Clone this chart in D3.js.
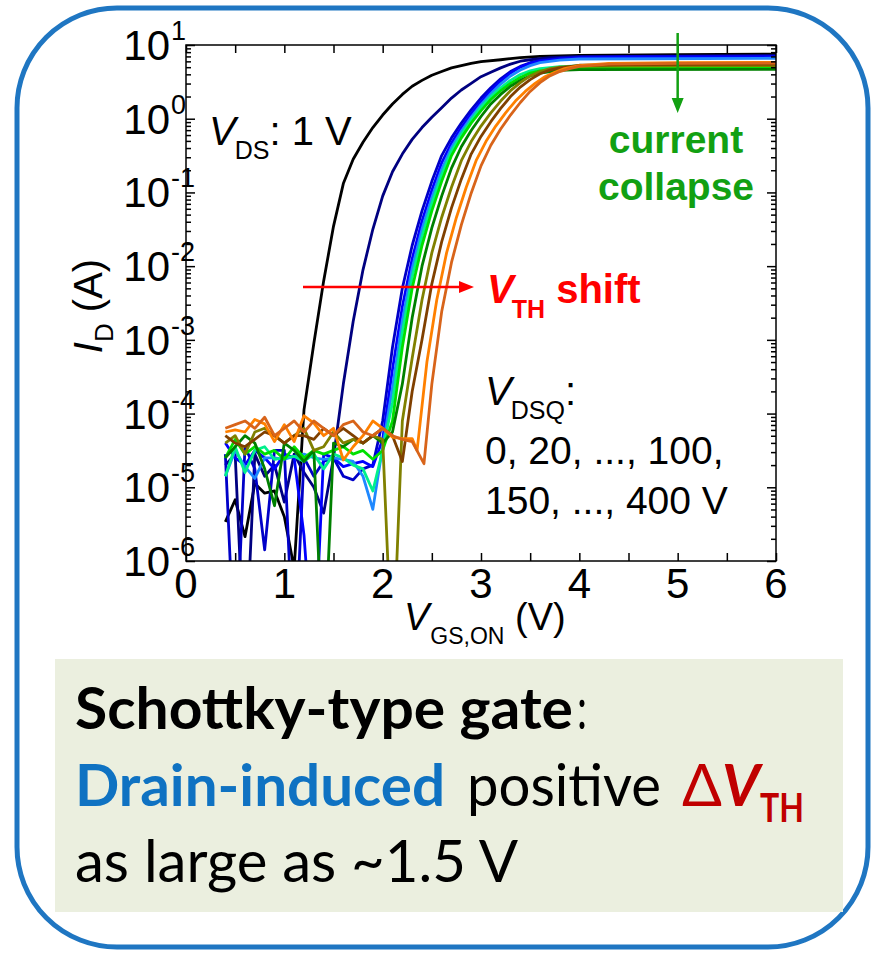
<!DOCTYPE html>
<html lang="en">
<head>
<meta charset="utf-8">
<title>ID-VGS,ON</title>
<script src="https://d3js.org/d3.v7.min.js"></script>
<style>
body { margin: 0; background: #fff; }
</style>
</head>
<body>
<script>
// V_DSQ of each sweep and its line colour
var vdsq = [0, 20, 40, 60, 80, 100, 150, 200, 250, 300, 350, 400];
var colors = ["#000000", "#000080", "#0000c8", "#0000ff", "#1e88ff", "#00f08c",
              "#00e000", "#008000", "#808000", "#804000", "#ff8000", "#d8641a"];

// [V_GS,ON (V), log10(I_D / A)]
var c0 = [[0.4,-5.47],[0.5,-5.17],[0.6,-5.67],[0.7,-4.95],[0.8,-5.08],[0.9,-5.05],[1.0,-5.4],[1.1,-6.1],[1.2,-3.95],[1.3,-3.05],[1.4,-2.2],[1.5,-1.46],[1.6,-0.88],[1.7,-0.55],[1.8,-0.32],[1.9,-0.12],[2.0,0.05],[2.1,0.2],[2.2,0.33],[2.3,0.44],[2.4,0.52],[2.5,0.59],[2.6,0.64],[2.7,0.69],[2.8,0.72],[2.9,0.75],[3.0,0.775],[3.2,0.8],[3.4,0.83],[3.6,0.845],[4.0,0.86],[5.0,0.87],[6.0,0.875]];
var c20 = [[0.4,-4.7],[0.5,-4.55],[0.6,-7.5],[0.7,-4.55],[0.8,-4.85],[0.9,-4.7],[1.0,-5.2],[1.1,-4.55],[1.2,-4.8],[1.3,-5.0],[1.4,-5.35],[1.5,-4.6],[1.6,-3.6],[1.7,-2.75],[1.8,-2.05],[1.9,-1.5],[2.0,-1.05],[2.1,-0.72],[2.2,-0.48],[2.3,-0.28],[2.4,-0.12],[2.5,0.02],[2.6,0.15],[2.7,0.28],[2.8,0.39],[2.9,0.48],[3.0,0.57],[3.1,0.63],[3.2,0.69],[3.3,0.74],[3.4,0.78],[3.5,0.8],[3.7,0.83],[4.0,0.845],[5.0,0.85],[6.0,0.855]];
var c40 = [[0.4,-4.55],[0.5,-7.5],[0.6,-4.45],[0.7,-4.75],[0.8,-5.85],[0.9,-4.5],[1.0,-4.5],[1.1,-7.5],[1.2,-4.6],[1.3,-4.85],[1.4,-4.65],[1.5,-4.6],[1.6,-4.85],[1.7,-4.9],[1.8,-4.75],[1.9,-4.7],[2.0,-4.1],[2.1,-3.1],[2.2,-2.3],[2.3,-1.72],[2.4,-1.25],[2.5,-0.85],[2.6,-0.5],[2.7,-0.26],[2.8,-0.06],[2.9,0.12],[3.0,0.28],[3.1,0.42],[3.2,0.54],[3.3,0.64],[3.4,0.71],[3.5,0.76],[3.6,0.79],[3.8,0.82],[4.0,0.835],[4.5,0.845],[6.0,0.85]];
var c60 = [[0.4,-4.4],[0.5,-4.6],[0.6,-4.7],[0.7,-4.5],[0.8,-4.6],[0.9,-4.75],[1.0,-4.55],[1.1,-4.6],[1.2,-5.65],[1.3,-7.5],[1.4,-4.55],[1.5,-4.6],[1.6,-4.72],[1.7,-4.68],[1.8,-4.65],[1.9,-4.72],[2.0,-4.35],[2.1,-3.4],[2.2,-2.55],[2.3,-1.9],[2.4,-1.39],[2.5,-0.97],[2.6,-0.6],[2.7,-0.33],[2.8,-0.12],[2.9,0.07],[3.0,0.23],[3.1,0.38],[3.2,0.51],[3.3,0.62],[3.4,0.7],[3.5,0.75],[3.6,0.78],[3.8,0.81],[4.0,0.825],[4.5,0.835],[6.0,0.84]];
var c80 = [[0.4,-4.85],[0.5,-4.5],[0.6,-4.72],[0.7,-4.88],[0.8,-4.6],[0.9,-4.6],[1.0,-4.62],[1.1,-4.58],[1.2,-4.55],[1.3,-4.6],[1.4,-4.62],[1.5,-4.6],[1.6,-4.62],[1.7,-4.65],[1.8,-4.85],[1.9,-5.3],[2.0,-4.45],[2.1,-3.65],[2.2,-2.74],[2.3,-2.03],[2.4,-1.5],[2.5,-1.07],[2.6,-0.69],[2.7,-0.39],[2.8,-0.17],[2.9,0.02],[3.0,0.19],[3.1,0.34],[3.2,0.47],[3.3,0.58],[3.4,0.66],[3.5,0.72],[3.6,0.76],[3.8,0.795],[4.0,0.81],[6.0,0.82]];
var c100 = [[0.4,-4.85],[0.5,-4.45],[0.6,-4.8],[0.7,-4.5],[0.8,-4.45],[0.9,-4.62],[1.0,-4.6],[1.1,-4.58],[1.2,-4.65],[1.3,-4.55],[1.4,-4.75],[1.5,-4.55],[1.6,-4.6],[1.7,-4.7],[1.8,-4.75],[1.9,-5.05],[2.0,-4.5],[2.1,-3.85],[2.2,-2.9],[2.3,-2.15],[2.4,-1.6],[2.5,-1.15],[2.6,-0.76],[2.7,-0.44],[2.8,-0.21],[2.9,-0.02],[3.0,0.16],[3.1,0.3],[3.2,0.42],[3.3,0.52],[3.4,0.6],[3.5,0.65],[3.6,0.68],[3.8,0.705],[4.0,0.715],[6.0,0.72]];
var c150 = [[0.4,-4.6],[0.5,-4.35],[0.6,-4.55],[0.7,-4.45],[0.8,-4.55],[0.9,-4.5],[1.0,-4.62],[1.1,-4.45],[1.2,-4.6],[1.3,-4.5],[1.4,-4.55],[1.5,-4.5],[1.6,-4.45],[1.7,-4.55],[1.8,-4.5],[1.9,-4.62],[2.0,-4.5],[2.1,-4.1],[2.2,-3.1],[2.3,-2.3],[2.4,-1.72],[2.5,-1.25],[2.6,-0.85],[2.7,-0.5],[2.8,-0.26],[2.9,-0.06],[3.0,0.11],[3.1,0.26],[3.2,0.38],[3.3,0.48],[3.4,0.56],[3.5,0.62],[3.6,0.65],[3.8,0.675],[4.0,0.685],[6.0,0.69]];
var c200 = [[0.4,-4.6],[0.5,-4.45],[0.6,-4.3],[0.7,-4.4],[0.8,-4.75],[0.9,-5.25],[1.0,-4.4],[1.1,-4.5],[1.2,-4.65],[1.3,-4.5],[1.4,-7.5],[1.5,-4.4],[1.6,-4.45],[1.7,-4.35],[1.8,-4.4],[1.9,-4.3],[2.0,-4.4],[2.1,-4.25],[2.2,-3.6],[2.3,-2.7],[2.4,-2.0],[2.5,-1.48],[2.6,-1.05],[2.7,-0.67],[2.8,-0.38],[2.9,-0.16],[3.0,0.03],[3.1,0.2],[3.2,0.33],[3.3,0.44],[3.4,0.52],[3.5,0.58],[3.6,0.62],[3.8,0.655],[4.0,0.665],[6.0,0.67]];
var c250 = [[0.4,-4.4],[0.5,-4.3],[0.6,-4.55],[0.7,-4.25],[0.8,-4.2],[0.9,-4.3],[1.0,-4.4],[1.1,-4.3],[1.2,-4.2],[1.3,-4.5],[1.4,-4.45],[1.5,-4.25],[1.6,-4.4],[1.7,-4.35],[1.8,-4.4],[1.9,-4.3],[2.0,-4.35],[2.1,-7.5],[2.2,-4.1],[2.3,-3.25],[2.4,-2.46],[2.5,-1.82],[2.6,-1.34],[2.7,-0.93],[2.8,-0.57],[2.9,-0.31],[3.0,-0.1],[3.1,0.08],[3.2,0.24],[3.3,0.38],[3.4,0.49],[3.5,0.58],[3.6,0.64],[3.7,0.68],[3.8,0.7],[4.0,0.715],[6.0,0.72]];
var c300 = [[0.4,-4.3],[0.5,-4.4],[0.6,-4.45],[0.7,-4.35],[0.8,-4.25],[0.9,-4.3],[1.0,-4.4],[1.1,-4.3],[1.2,-4.3],[1.3,-4.35],[1.4,-4.2],[1.5,-4.3],[1.6,-4.2],[1.7,-4.3],[1.8,-4.4],[1.9,-4.3],[2.0,-4.2],[2.1,-4.3],[2.2,-4.65],[2.3,-3.7],[2.4,-3.0],[2.5,-2.24],[2.6,-1.67],[2.7,-1.21],[2.8,-0.82],[2.9,-0.48],[3.0,-0.24],[3.1,-0.04],[3.2,0.14],[3.3,0.3],[3.4,0.43],[3.5,0.53],[3.6,0.61],[3.7,0.66],[3.8,0.69],[4.0,0.725],[4.5,0.735],[6.0,0.74]];
var c350 = [[0.4,-4.25],[0.5,-4.22],[0.6,-4.25],[0.7,-4.08],[0.8,-4.14],[0.9,-4.38],[1.0,-4.15],[1.1,-4.38],[1.2,-4.03],[1.3,-4.13],[1.4,-4.3],[1.5,-4.2],[1.6,-4.63],[1.7,-4.45],[1.8,-4.3],[1.9,-4.1],[2.0,-4.2],[2.1,-4.32],[2.2,-4.34],[2.3,-4.34],[2.35,-4.5],[2.45,-3.3],[2.55,-2.46],[2.65,-1.82],[2.75,-1.34],[2.85,-0.93],[2.95,-0.57],[3.05,-0.31],[3.15,-0.1],[3.25,0.08],[3.35,0.24],[3.45,0.37],[3.55,0.48],[3.65,0.57],[3.75,0.63],[3.85,0.68],[4.0,0.72],[4.3,0.75],[5.0,0.76],[6.0,0.765]];
var c400 = [[0.4,-4.2],[0.5,-4.15],[0.6,-4.1],[0.7,-4.2],[0.8,-4.05],[0.9,-4.3],[1.0,-4.2],[1.1,-4.1],[1.2,-4.25],[1.3,-4.1],[1.4,-4.2],[1.5,-4.3],[1.6,-4.15],[1.7,-4.1],[1.8,-4.25],[1.9,-4.3],[2.0,-4.2],[2.1,-4.3],[2.2,-4.35],[2.3,-4.38],[2.42,-4.68],[2.5,-3.6],[2.6,-2.62],[2.7,-1.95],[2.8,-1.44],[2.9,-1.01],[3.0,-0.64],[3.1,-0.36],[3.2,-0.14],[3.3,0.05],[3.4,0.22],[3.5,0.37],[3.6,0.49],[3.7,0.58],[3.8,0.64],[3.9,0.68],[4.0,0.71],[4.3,0.74],[5.0,0.75],[6.0,0.755]];
var curves = [c0, c20, c40, c60, c80, c100, c150, c200, c250, c300, c350, c400];

// tick labels
var xTicks = [0, 1, 2, 3, 4, 5, 6];
var yExps = [-6, -5, -4, -3, -2, -1, 0, 1];

var w = 878, h = 956;
var svg = d3.select("body").append("svg").attr("width", w).attr("height", h)
  .style("font-family", "'Liberation Sans', Arial, sans-serif");

// outer rounded frame and green note box
svg.append("rect").attr("x", 17).attr("y", 8).attr("width", 851).attr("height", 939)
  .attr("rx", 100).attr("ry", 100).attr("fill", "none")
  .attr("stroke", "#1f76c2").attr("stroke-width", 5);
svg.append("rect").attr("x", 55).attr("y", 659).attr("width", 788).attr("height", 253)
  .attr("fill", "#ebefdf");

var x = d3.scaleLinear().domain([0, 6]).range([186, 776]);
var y = d3.scaleLog().domain([1e-6, 10]).range([561, 45]);

svg.append("clipPath").attr("id", "plot").append("rect")
  .attr("x", 186).attr("y", 45).attr("width", 590).attr("height", 516);

var line = d3.line()
  .x(function(d) { return x(d[0]); })
  .y(function(d) { return y(Math.pow(10, d[1])); });

svg.append("g").attr("clip-path", "url(#plot)")
  .selectAll("path")
  .data(curves)
  .enter()
  .append("path")
  .attr("d", line)
  .attr("fill", "none")
  .attr("stroke", function(d, i) { return colors[i]; })
  .attr("stroke-width", 2.8)
  .attr("stroke-linejoin", "round");

// axes: inward ticks on all four sides
var halfTicks = x.ticks(12);
var decades = yExps.map(function(e) { return Math.pow(10, e); });
var minor = y.ticks().filter(function(v) { return decades.indexOf(v) < 0; });

function tidy(g) {
  g.select(".domain").remove();
  g.selectAll(".tick line").attr("stroke", "#000").attr("stroke-width", 1.5);
  g.selectAll("text").remove();
}
svg.append("g").attr("transform", "translate(0,561)")
  .call(d3.axisBottom(x).tickValues(halfTicks).tickSize(-8)).call(tidy);
svg.append("g").attr("transform", "translate(0,45)")
  .call(d3.axisTop(x).tickValues(halfTicks).tickSize(-8)).call(tidy);
svg.append("g").attr("transform", "translate(186,0)")
  .call(d3.axisLeft(y).tickValues(decades).tickSize(-9)).call(tidy);
svg.append("g").attr("transform", "translate(186,0)")
  .call(d3.axisLeft(y).tickValues(minor).tickSize(-5)).call(tidy);
svg.append("g").attr("transform", "translate(776,0)")
  .call(d3.axisRight(y).tickValues(decades).tickSize(-9)).call(tidy);
svg.append("g").attr("transform", "translate(776,0)")
  .call(d3.axisRight(y).tickValues(minor).tickSize(-5)).call(tidy);

svg.append("rect").attr("x", 186).attr("y", 45).attr("width", 590).attr("height", 516)
  .attr("fill", "none").attr("stroke", "#000").attr("stroke-width", 1.5);

svg.selectAll(".xlab").data(xTicks).enter().append("text")
  .attr("x", function(d) { return x(d); }).attr("y", 598)
  .attr("text-anchor", "middle").attr("font-size", 42)
  .text(function(d) { return d; });

var ylab = svg.selectAll(".ylab").data(yExps).enter().append("g");
ylab.append("text")
  .attr("x", 170).attr("y", function(d) { return y(Math.pow(10, d)) + 15; })
  .attr("text-anchor", "end").attr("font-size", 42).text("10");
ylab.append("text")
  .attr("x", 171).attr("y", function(d) { return y(Math.pow(10, d)) - 5; })
  .attr("font-size", 27).text(function(d) { return d; });

// text with sub/superscript parts: [text, size, dy, style, dx]
function rich(px, py, parts, fill, weight, anchor) {
  var t = svg.append("text").attr("x", px).attr("y", py)
    .attr("fill", fill || "#000").attr("font-weight", weight || "normal")
    .attr("text-anchor", anchor || "start");
  parts.forEach(function(p) {
    var s = t.append("tspan").attr("font-size", p[1]).attr("dy", p[2] || 0).text(p[0]);
    if (p[3]) s.attr("font-style", p[3]);
    if (p[4]) s.attr("dx", p[4]);
  });
  return t;
}

// axis titles
rich(404, 630, [["V", 38, 0, "italic"], ["GS,ON", 23, 14, null, 1], [" (V)", 38, -14]]);
rich(0, 0, [["I", 40, 0, "italic"], ["D", 26, 11], [" (A)", 40, -11]], null, null, "middle")
  .attr("transform", "translate(102,306) rotate(-90)");

// annotations
rich(209, 145, [["V", 40, 0, "italic"], ["DS", 25, 14, null, -1], [": 1 V", 40, -14]]);
svg.append("text").attr("x", 676).attr("y", 153).attr("text-anchor", "middle")
  .attr("font-size", 39).attr("font-weight", "bold").attr("fill", "#12a012").text("current");
svg.append("text").attr("x", 676).attr("y", 200).attr("text-anchor", "middle")
  .attr("font-size", 39).attr("font-weight", "bold").attr("fill", "#12a012").text("collapse");

svg.append("line").attr("x1", x(5)).attr("x2", x(5)).attr("y1", 33).attr("y2", 100)
  .attr("stroke", "#12a012").attr("stroke-width", 2.5);
svg.append("path").attr("d", "M" + (x(5) - 6) + ",98L" + x(5) + ",113L" + (x(5) + 6) + ",98Z")
  .attr("fill", "#12a012");

svg.append("line").attr("x1", 303).attr("x2", 462).attr("y1", 287).attr("y2", 287)
  .attr("stroke", "#ff0000").attr("stroke-width", 2.5);
svg.append("path").attr("d", "M459,281L474,287L459,293Z").attr("fill", "#ff0000");

rich(487, 303, [["V", 40, 0, "italic"], ["TH", 25, 15, null, -2], [" shift", 40, -15]], "#ff0000", "bold");

rich(485, 405, [["V", 40, 0, "italic"], ["DSQ", 25, 14, null, -1], [":", 40, -14]]);
svg.append("text").attr("x", 485).attr("y", 464).attr("font-size", 39).text("0, 20, ..., 100,");
svg.append("text").attr("x", 485).attr("y", 514).attr("font-size", 39).text("150, ..., 400 V");

// note text
function note(px, py, str, len, size, fill, weight, style) {
  return svg.append("text").attr("x", px).attr("y", py)
    .attr("font-family", "Lato, 'Open Sans', sans-serif")
    .attr("font-size", size).attr("fill", fill).attr("font-weight", weight)
    .attr("font-style", style || "normal")
    .attr("textLength", len).attr("lengthAdjust", "spacingAndGlyphs")
    .text(str);
}
note(75, 729, "Schottky-type gate", 498, 58, "#000", "bold");
note(577, 729, ":", 10, 58, "#000", "normal");
note(75, 806, "Drain-induced", 370, 58, "#0f72c2", "bold");
note(467, 806, "positive", 194, 58, "#000", "normal");
note(682, 806, "\u0394", 40, 58, "#c00000", "normal");
note(722, 806, "V", 38, 58, "#c00000", "bold", "italic");
note(760, 822, "TH", 44, 40, "#c00000", "bold");
note(75, 882, "as large as ~1.5 V", 443, 58, "#000", "normal");
</script>
</body>
</html>
